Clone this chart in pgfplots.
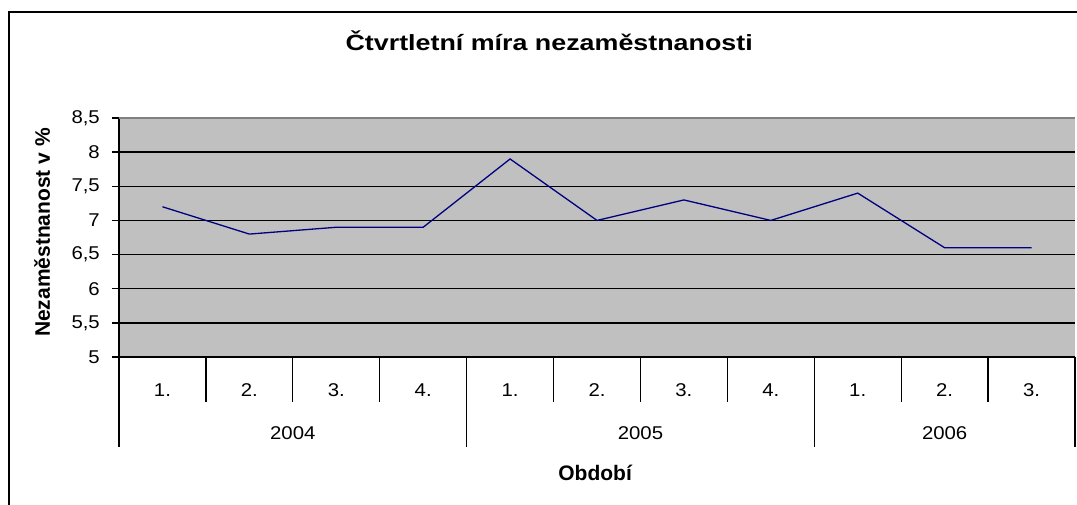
\documentclass[border=0pt]{standalone}
\usepackage{pgfplots}
\pgfplotsset{compat=1.18}
\usepackage{fontspec}
\setmainfont{Liberation Sans}
\newfontfamily\wfont[FakeStretch=1.1]{Liberation Sans}
\newfontfamily\tfont[FakeStretch=1.22]{Liberation Sans}
\definecolor{plotbg}{HTML}{C0C0C0}
\definecolor{navyline}{HTML}{000080}
\definecolor{borderg}{HTML}{808080}
\begin{document}
\begin{tikzpicture}[x=1pt,y=1pt]
\path[use as bounding box] (0,0) rectangle (1077,505);
\draw[black, line width=1.5pt] (9,-5) -- (9,493) -- (1085,493);
\begin{axis}[
  at={(119pt,148pt)}, anchor=south west,
  width=956pt, height=239pt, scale only axis,
  xmin=0, xmax=11, ymin=5, ymax=8.5,
  clip=false,
  axis background/.style={fill=plotbg},
  axis x line*=bottom, axis y line*=left,
  axis line style={black, line width=1.3pt, -},
  ytick={5,5.5,6,6.5,7,7.5,8,8.5},
  ymajorgrids,
  major grid style={black, line width=1.3pt},
  tick align=outside,
  major tick length=7pt,
  ytick style={black, line width=1.3pt},
  xtick style={draw=none},
  xtick={0.5,1.5,2.5,3.5,4.5,5.5,6.5,7.5,8.5,9.5,10.5},
  xticklabels={1.,2.,3.,4.,1.,2.,3.,4.,1.,2.,3.},
  xticklabel style={anchor=center, yshift=-26pt},
  tick label style={font=\wfont\fontsize{18.5}{21}\selectfont},
  /pgf/number format/assume math mode=true,
  yticklabel style={/pgf/number format/use comma, /pgf/number format/fixed, anchor=east, inner sep=0pt, xshift=-12pt},
  title={Čtvrtletní míra nezaměstnanosti},
  title style={font=\tfont\bfseries\fontsize{22}{26}\selectfont, at={(axis description cs:0.45,1.297)}, anchor=center},
  ylabel={Nezaměstnanost v \%},
  every axis y label/.style={at={(axis description cs:-0.0805,0.521)}, rotate=90, anchor=center, font=\bfseries\fontsize{21}{24}\selectfont},
  xlabel={Období},
  every axis x label/.style={at={(axis description cs:0.498,-0.485)}, anchor=center, font=\bfseries\fontsize{21}{24}\selectfont},
]
\addplot[navyline, line width=1.3pt, mark=none] coordinates {
(0.5,7.2) (1.5,6.8) (2.5,6.9) (3.5,6.9) (4.5,7.9) (5.5,7.0) (6.5,7.3) (7.5,7.0) (8.5,7.4) (9.5,6.6) (10.5,6.6)};
\draw[borderg, line width=1.3pt] (rel axis cs:0,1) -- (rel axis cs:1,1);
\draw[black, line width=1.3pt] (axis cs:1,5) -- ++(0pt,-45pt);
\draw[black, line width=1.3pt] (axis cs:2,5) -- ++(0pt,-45pt);
\draw[black, line width=1.3pt] (axis cs:3,5) -- ++(0pt,-45pt);
\draw[black, line width=1.3pt] (axis cs:5,5) -- ++(0pt,-45pt);
\draw[black, line width=1.3pt] (axis cs:6,5) -- ++(0pt,-45pt);
\draw[black, line width=1.3pt] (axis cs:7,5) -- ++(0pt,-45pt);
\draw[black, line width=1.3pt] (axis cs:9,5) -- ++(0pt,-45pt);
\draw[black, line width=1.3pt] (axis cs:10,5) -- ++(0pt,-45pt);
\draw[black, line width=1.3pt] (axis cs:0,5) -- ++(0pt,-90pt);
\draw[black, line width=1.3pt] (axis cs:4,5) -- ++(0pt,-90pt);
\draw[black, line width=1.3pt] (axis cs:8,5) -- ++(0pt,-90pt);
\draw[black, line width=1.3pt] (axis cs:11,5) -- ++(0pt,-90pt);
\node[font=\wfont\fontsize{18.5}{21}\selectfont, yshift=-76pt] at (axis cs:2,5) {2004};
\node[font=\wfont\fontsize{18.5}{21}\selectfont, yshift=-76pt] at (axis cs:6,5) {2005};
\node[font=\wfont\fontsize{18.5}{21}\selectfont, yshift=-76pt] at (axis cs:9.5,5) {2006};
\end{axis}
\end{tikzpicture}
\end{document}
